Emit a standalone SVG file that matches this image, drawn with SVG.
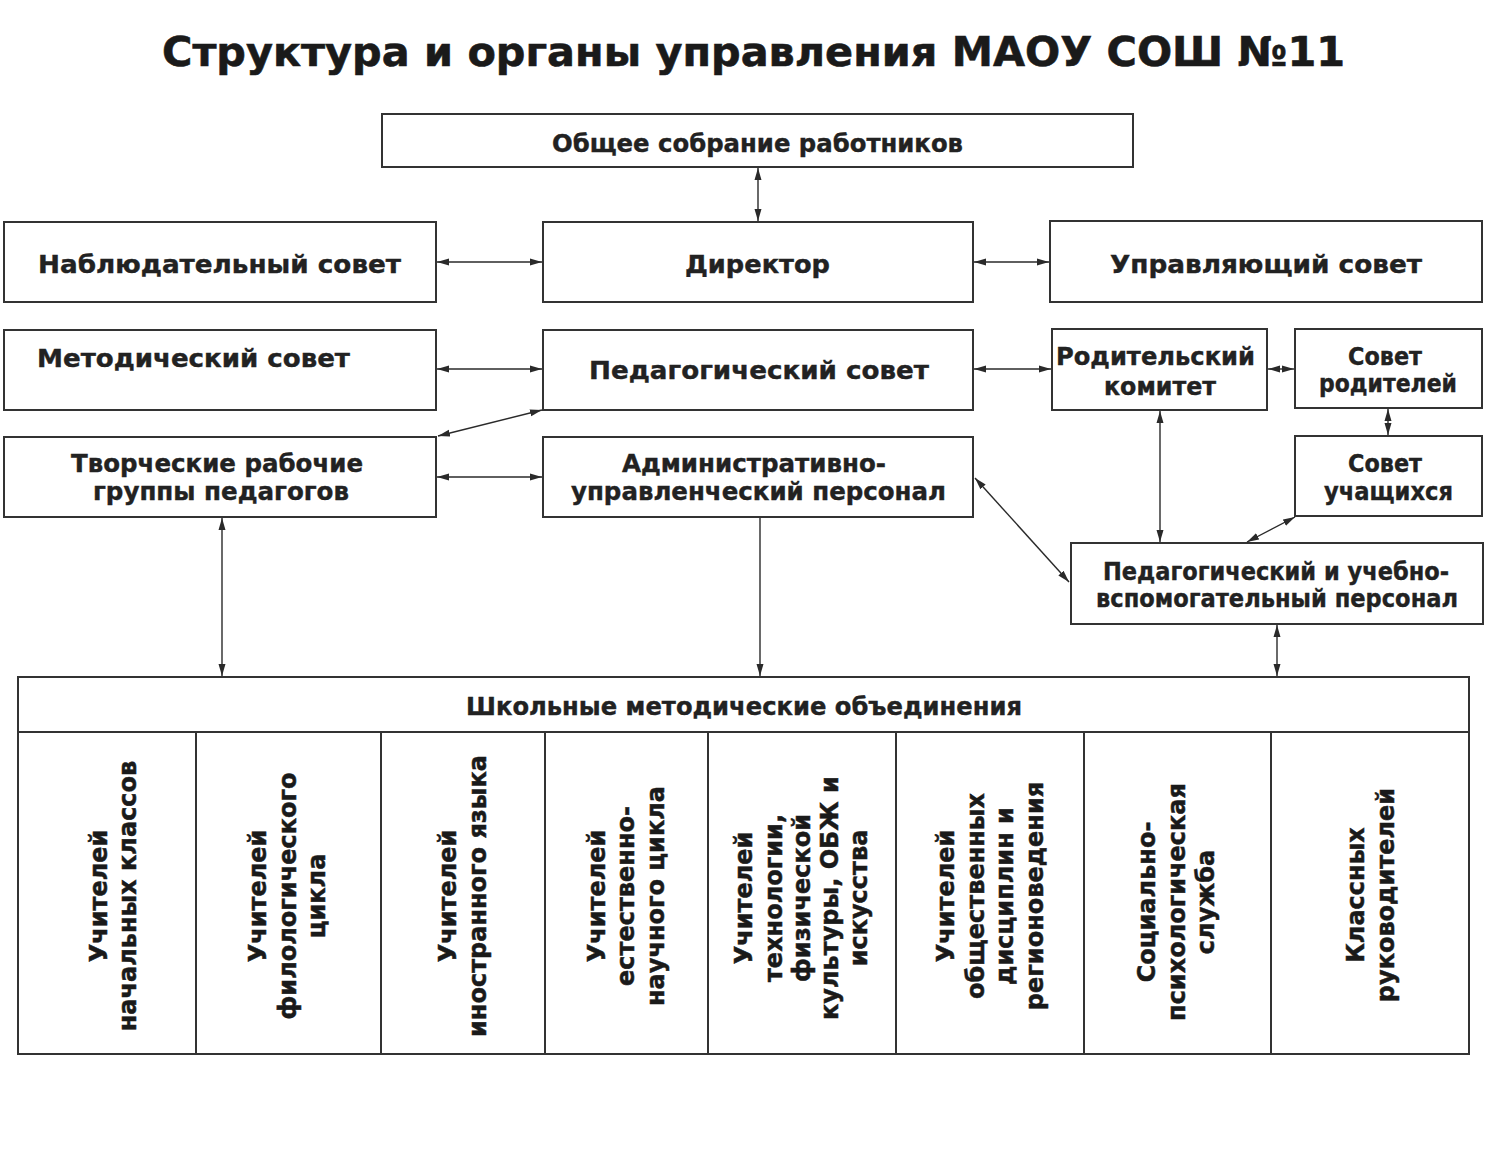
<svg xmlns="http://www.w3.org/2000/svg" width="1500" height="1159" viewBox="0 0 1500 1159">
<defs>
<marker id="ah" markerUnits="userSpaceOnUse" markerWidth="13" markerHeight="8" refX="12" refY="4" orient="auto-start-reverse">
<path d="M0,0.5 L12,4 L0,7.5 z" fill="#2a2a2a"/>
</marker>
<style>
.box{fill:#fff;stroke:#333;stroke-width:2}
.t{font-family:"DejaVu Sans","Verdana",sans-serif;font-weight:bold;font-size:25px;fill:#222;stroke:#222;stroke-width:0.4}
.v{font-family:"DejaVu Sans","Verdana",sans-serif;font-weight:bold;font-size:24px;fill:#1a1a1a;stroke:#1a1a1a;stroke-width:0.5;text-anchor:middle}
.title{font-family:"DejaVu Sans","Verdana",sans-serif;font-weight:bold;font-size:41px;fill:#1a1a1a;stroke:#1a1a1a;stroke-width:0.6}
.c{fill:none;stroke:#2a2a2a;stroke-width:1.4}
.b{marker-start:url(#ah);marker-end:url(#ah)}
.e{marker-end:url(#ah)}
</style>
</defs>
<rect width="1500" height="1159" fill="#fff"/>
<text class="title" x="162" y="66" textLength="1183" lengthAdjust="spacingAndGlyphs">Структура и органы управления МАОУ СОШ №11</text>

<g id="obshchee-sobranie">
<rect class="box" x="382" y="114" width="751" height="53"/>
<text class="t" x="552" y="152" textLength="411" lengthAdjust="spacingAndGlyphs">Общее собрание работников</text>
</g>
<g id="nablyudatelny-sovet">
<rect class="box" x="4" y="222" width="432" height="80"/>
<text class="t" x="38" y="273" textLength="363" lengthAdjust="spacingAndGlyphs">Наблюдательный совет</text>
</g>
<g id="direktor">
<rect class="box" x="543" y="222" width="430" height="80"/>
<text class="t" x="685" y="273" textLength="145" lengthAdjust="spacingAndGlyphs">Директор</text>
</g>
<g id="upravlyayushchy-sovet">
<rect class="box" x="1050" y="221" width="432" height="81"/>
<text class="t" x="1110" y="273" textLength="312" lengthAdjust="spacingAndGlyphs">Управляющий совет</text>
</g>
<g id="metodichesky-sovet">
<rect class="box" x="4" y="330" width="432" height="80"/>
<text class="t" x="37" y="367" textLength="313" lengthAdjust="spacingAndGlyphs">Методический совет</text>
</g>
<g id="pedagogichesky-sovet">
<rect class="box" x="543" y="330" width="430" height="80"/>
<text class="t" x="589" y="379" textLength="340" lengthAdjust="spacingAndGlyphs">Педагогический совет</text>
</g>
<g id="roditelsky-komitet">
<rect class="box" x="1052" y="329" width="215" height="81"/>
<text class="t" x="1056" y="365" textLength="199" lengthAdjust="spacingAndGlyphs">Родительский</text>
<text class="t" x="1104" y="395" textLength="112" lengthAdjust="spacingAndGlyphs">комитет</text>
</g>
<g id="sovet-roditeley">
<rect class="box" x="1295" y="329" width="187" height="79"/>
<text class="t" x="1348" y="365" textLength="74" lengthAdjust="spacingAndGlyphs">Совет</text>
<text class="t" x="1319" y="392" textLength="138" lengthAdjust="spacingAndGlyphs">родителей</text>
</g>
<g id="tvorcheskie-gruppy">
<rect class="box" x="4" y="437" width="432" height="80"/>
<text class="t" x="71" y="472" textLength="292" lengthAdjust="spacingAndGlyphs">Творческие рабочие</text>
<text class="t" x="93" y="500" textLength="256" lengthAdjust="spacingAndGlyphs">группы педагогов</text>
</g>
<g id="administrativny-personal">
<rect class="box" x="543" y="437" width="430" height="80"/>
<text class="t" x="622" y="472" textLength="264" lengthAdjust="spacingAndGlyphs">Административно-</text>
<text class="t" x="571" y="500" textLength="375" lengthAdjust="spacingAndGlyphs">управленческий персонал</text>
</g>
<g id="sovet-uchashchikhsya">
<rect class="box" x="1295" y="436" width="187" height="80"/>
<text class="t" x="1348" y="472" textLength="74" lengthAdjust="spacingAndGlyphs">Совет</text>
<text class="t" x="1324" y="500" textLength="129" lengthAdjust="spacingAndGlyphs">учащихся</text>
</g>
<g id="ped-uchebno-vspomogatelny">
<rect class="box" x="1071" y="543" width="412" height="81"/>
<text class="t" x="1103" y="580" textLength="346" lengthAdjust="spacingAndGlyphs">Педагогический и учебно-</text>
<text class="t" x="1096" y="607" textLength="362" lengthAdjust="spacingAndGlyphs">вспомогательный персонал</text>
</g>

<g id="shkolnye-mo">
<rect class="box" x="18" y="677" width="1451" height="377"/>
<line x1="18" y1="732" x2="1469" y2="732" stroke="#333" stroke-width="2"/>
<line x1="196" y1="732" x2="196" y2="1054" stroke="#333" stroke-width="2"/>
<line x1="381" y1="732" x2="381" y2="1054" stroke="#333" stroke-width="2"/>
<line x1="545" y1="732" x2="545" y2="1054" stroke="#333" stroke-width="2"/>
<line x1="708" y1="732" x2="708" y2="1054" stroke="#333" stroke-width="2"/>
<line x1="896" y1="732" x2="896" y2="1054" stroke="#333" stroke-width="2"/>
<line x1="1084" y1="732" x2="1084" y2="1054" stroke="#333" stroke-width="2"/>
<line x1="1271" y1="732" x2="1271" y2="1054" stroke="#333" stroke-width="2"/>
<text class="t" x="466" y="715" textLength="556" lengthAdjust="spacingAndGlyphs">Школьные методические объединения</text>
</g>

<g id="mo-nachalnye">
<text class="v" transform="translate(107,896) rotate(-90)">Учителей</text>
<text class="v" transform="translate(136,896) rotate(-90)">начальных классов</text>
</g>
<g id="mo-filologicheskie">
<text class="v" transform="translate(266,896) rotate(-90)">Учителей</text>
<text class="v" transform="translate(296,896) rotate(-90)">филологического</text>
<text class="v" transform="translate(325,896) rotate(-90)">цикла</text>
</g>
<g id="mo-inostranny">
<text class="v" transform="translate(456,896) rotate(-90)">Учителей</text>
<text class="v" transform="translate(486,896) rotate(-90)">иностранного языка</text>
</g>
<g id="mo-estestvennonauchny">
<text class="v" transform="translate(605,896) rotate(-90)">Учителей</text>
<text class="v" transform="translate(634,896) rotate(-90)">естественно-</text>
<text class="v" transform="translate(664,896) rotate(-90)">научного цикла</text>
</g>
<g id="mo-tekhnologii">
<text class="v" transform="translate(752,898) rotate(-90)">Учителей</text>
<text class="v" transform="translate(782,898) rotate(-90)">технологии,</text>
<text class="v" transform="translate(810,898) rotate(-90)">физической</text>
<text class="v" transform="translate(838,898) rotate(-90)">культуры, ОБЖ и</text>
<text class="v" transform="translate(867,898) rotate(-90)">искусства</text>
</g>
<g id="mo-obshchestvennye">
<text class="v" transform="translate(954,896) rotate(-90)">Учителей</text>
<text class="v" transform="translate(984,896) rotate(-90)">общественных</text>
<text class="v" transform="translate(1013,896) rotate(-90)">дисциплин и</text>
<text class="v" transform="translate(1043,896) rotate(-90)">регионоведения</text>
</g>
<g id="mo-socialno-psikhologicheskaya">
<text class="v" transform="translate(1155,902) rotate(-90)">Социально-</text>
<text class="v" transform="translate(1185,902) rotate(-90)">психологическая</text>
<text class="v" transform="translate(1214,902) rotate(-90)">служба</text>
</g>
<g id="mo-klassnye-rukovoditeli">
<text class="v" transform="translate(1364,895) rotate(-90)">Классных</text>
<text class="v" transform="translate(1394,895) rotate(-90)">руководителей</text>
</g>

<g id="connectors">
<line class="c b" x1="758" y1="168" x2="758" y2="221"/>
<line class="c b" x1="437" y1="262" x2="542" y2="262"/>
<line class="c b" x1="974" y1="262" x2="1049" y2="262"/>
<line class="c b" x1="437" y1="369" x2="542" y2="369"/>
<line class="c b" x1="974" y1="369" x2="1051" y2="369"/>
<line class="c b" x1="1268" y1="369" x2="1294" y2="369"/>
<line class="c b" x1="1388" y1="409" x2="1388" y2="435"/>
<line class="c b" x1="438" y1="436" x2="542" y2="410"/>
<line class="c b" x1="437" y1="477" x2="542" y2="477"/>
<line class="c b" x1="222" y1="518" x2="222" y2="676"/>
<line class="c e" x1="760" y1="518" x2="760" y2="676"/>
<line class="c b" x1="975" y1="478" x2="1069" y2="582"/>
<line class="c b" x1="1160" y1="411" x2="1160" y2="542"/>
<line class="c b" x1="1295" y1="517" x2="1247" y2="542"/>
<line class="c b" x1="1277" y1="625" x2="1277" y2="676"/>
</g>
</svg>
